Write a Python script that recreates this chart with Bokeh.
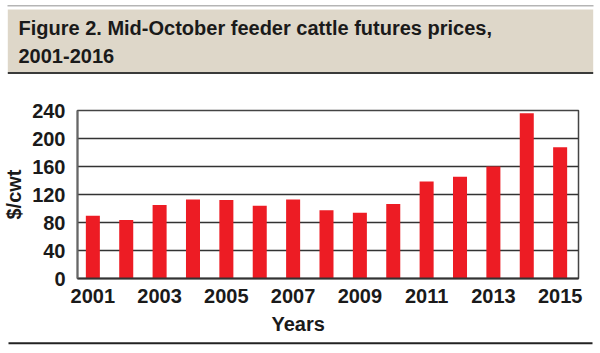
from bokeh.plotting import figure
from bokeh.layouts import column
from bokeh.models import Range1d, FixedTicker, Title
from bokeh.core.properties import value
from bokeh.embed import file_html
from bokeh.resources import INLINE

# ---- data ----
years = [2001, 2002, 2003, 2004, 2005, 2006, 2007, 2008, 2009, 2010,
         2011, 2012, 2013, 2014, 2015]
prices = [89.5, 83.5, 105.0, 113.0, 112.0, 104.0, 113.0, 97.5, 94.0, 106.5,
          138.5, 145.5, 160.0, 236.0, 187.5]
y_ticks = [0, 40, 80, 120, 160, 200, 240]
x_ticks = [2001, 2003, 2005, 2007, 2009, 2011, 2013, 2015]
title_lines = ["Figure 2. Mid-October feeder cattle futures prices,", "2001-2016"]
x_label = "Years"
y_label = "$/cwt"

FONT = "Liberation Sans"
FS = "20px"
RED = "#ED1C24"
INK = "#1a1a1a"
BEIGE = "#DED7C9"


def band(h):
    # a figure whose frame covers the whole canvas, in pixel coordinates
    f = figure(width=600, height=h, x_range=Range1d(0, 600), y_range=Range1d(h, 0),
               x_axis_type=None, y_axis_type=None, title=None,
               output_backend="svg", toolbar_location=None, min_border=0,
               outline_line_color=None, frame_align=False)
    return f


# ---- title band ----
t = band(75)
t.segment(x0=[7], y0=[5.2], x1=[593], y1=[5.2], line_color="#b5b5b5", line_width=1.5)
t.quad(left=[7.3], right=[592.7], top=[9], bottom=[72], fill_color=BEIGE,
       line_color=None)
t.segment(x0=[7.3], y0=[72.5], x1=[592.7], y1=[72.5], line_color="#3a3a3a",
          line_width=2)
t.text(x=[18, 18], y=[27, 55.3], text=title_lines, text_font=value(FONT),
       text_font_style="bold", text_font_size="20px", text_color=INK,
       text_baseline="alphabetic", text_align="left")

# ---- chart ----
p = figure(width=600, height=266, x_range=Range1d(2000.54, 2015.55),
           y_range=Range1d(0, 240), output_backend="svg", toolbar_location=None,
           title=None, min_border_left=69, min_border_right=22, min_border_top=35,
           min_border_bottom=63, frame_align=False)
p.vbar(x=years, top=prices, width=0.42, fill_color=RED, line_color=None)

p.outline_line_color = "#444444"
p.outline_line_width = 1.5
p.xgrid.visible = False
p.ygrid.ticker = FixedTicker(ticks=y_ticks)
p.ygrid.grid_line_color = "#333333"
p.ygrid.grid_line_width = 1.5

p.yaxis.ticker = FixedTicker(ticks=y_ticks)
p.xaxis.ticker = FixedTicker(ticks=x_ticks)
for ax in (p.xaxis, p.yaxis):
    ax.major_tick_line_color = None
    ax.minor_tick_line_color = None
    ax.major_label_text_font = FONT
    ax.major_label_text_font_style = "bold"
    ax.major_label_text_font_size = FS
    ax.major_label_text_color = INK
    ax.axis_label_text_font = FONT
    ax.axis_label_text_font_style = "bold"
    ax.axis_label_text_font_size = FS
    ax.axis_label_text_color = INK
p.yaxis.axis_line_color = "#666666"
p.yaxis.axis_line_width = 2
p.xaxis.axis_line_color = "#333333"
p.xaxis.axis_line_width = 2
p.yaxis.major_label_standoff = 6
p.xaxis.major_label_standoff = 4
p.yaxis.axis_label = y_label
p.yaxis.axis_label_standoff = 4

p.add_layout(Title(text=x_label, text_font=FONT, text_font_style="bold",
                   text_font_size=FS, text_color=INK, align="left",
                   offset=194, standoff=10), "below")

# ---- bottom rule ----
b = band(12)
b.segment(x0=[8], y0=[1.7], x1=[592], y1=[1.7], line_color="#222222", line_width=2)

layout = column(t, p, b, spacing=0)
open("out.html", "w").write(file_html(layout, INLINE))
